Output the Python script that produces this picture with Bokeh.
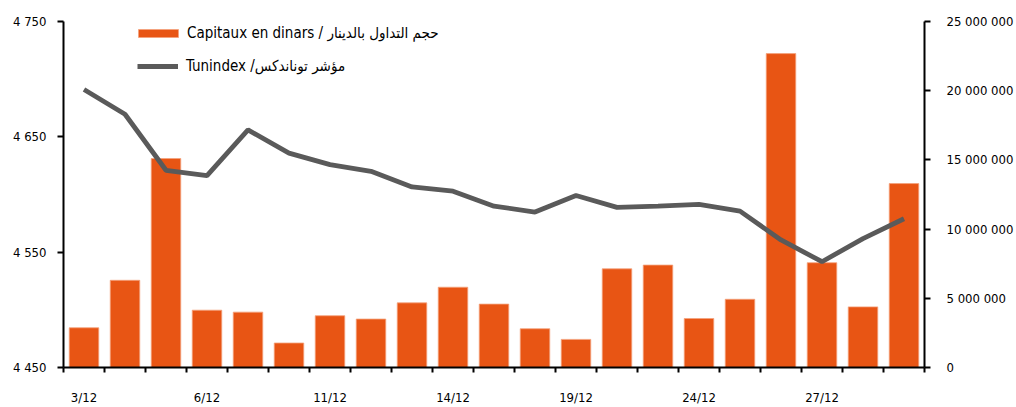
from bokeh.plotting import figure
from bokeh.models import (Range1d, LinearAxis, FixedTicker, Legend, LegendItem,
                          CustomJSTickFormatter)
from bokeh.embed import file_html
from bokeh.resources import INLINE

# ---- data ----
dates = ["3/12", "4/12", "5/12", "6/12", "7/12", "10/12", "11/12", "12/12", "13/12",
         "14/12", "17/12", "18/12", "19/12", "20/12", "21/12", "24/12", "25/12",
         "26/12", "27/12", "28/12", "31/12"]
capitaux = [2.87e6, 6.3e6, 15.1e6, 4.14e6, 4.0e6, 1.77e6, 3.74e6, 3.5e6, 4.67e6,
            5.8e6, 4.58e6, 2.8e6, 2.03e6, 7.13e6, 7.4e6, 3.54e6, 4.93e6,
            22.68e6, 7.57e6, 4.38e6, 13.29e6]
tunindex = [4691.1, 4669.6, 4621.0, 4616.4, 4656.0, 4635.9, 4625.9, 4620.1, 4606.6,
            4602.9, 4589.9, 4584.8, 4599.1, 4588.8, 4589.9, 4591.4, 4585.6,
            4560.6, 4541.7, 4561.8, 4579.0]
label_every = 3
left_ticks = [4450, 4550, 4650, 4750]
right_ticks = [0, 5e6, 10e6, 15e6, 20e6, 25e6]
bar_label = "Capitaux en dinars / حجم التداول بالدينار"
line_label = "Tunindex /مؤشر توناندكس"

FONT = "'DejaVu Sans Condensed', 'DejaVu Sans', sans-serif"
ORANGE = "#E85514"
GREY = "#5A5A5A"
TXT = "#000000"

xs = list(range(len(dates)))

p = figure(width=1016, height=407, output_backend="svg", toolbar_location=None,
           x_range=Range1d(-0.5, len(dates) - 0.5), y_range=Range1d(4450, 4750),
           min_border_left=63, min_border_right=91, min_border_top=21,
           min_border_bottom=38)
p.extra_y_ranges = {"cap": Range1d(0, 25e6)}
p.outline_line_color = None
p.xgrid.visible = False
p.ygrid.visible = False

bars = p.vbar(x=xs, top=capitaux, width=0.72, bottom=0, y_range_name="cap",
              fill_color=ORANGE, line_color="#F4A27C", line_width=0.8)
line = p.line(x=xs, y=tunindex, line_color=GREY, line_width=4.8)

fmt = CustomJSTickFormatter(code="""
  return Math.round(tick).toString().replace(/\\B(?=(\\d{3})+(?!\\d))/g, ' ');
""")

def style_labels(ax, size):
    ax.major_label_text_font = FONT
    ax.major_label_text_font_size = size
    ax.major_label_text_color = TXT

# x axis
xa = p.xaxis[0]
xa.ticker = FixedTicker(ticks=[i for i in xs if i % label_every == 0],
                        minor_ticks=[i - 0.5 for i in range(len(dates) + 1)])
xa.major_label_overrides = {i: dates[i] for i in xs if i % label_every == 0}
xa.major_tick_out = 0
xa.major_tick_in = 0
xa.minor_tick_out = 5
xa.minor_tick_in = 0
xa.major_label_standoff = 17
xa.axis_line_width = 2
xa.minor_tick_line_width = 2
style_labels(xa, "13px")

# left axis
ya = p.yaxis[0]
ya.ticker = FixedTicker(ticks=left_ticks)
ya.formatter = fmt
ya.major_tick_out = 6
ya.major_tick_in = 0
ya.minor_tick_out = 0
ya.minor_tick_in = 0
ya.axis_line_width = 2
ya.major_tick_line_width = 2
ya.major_label_standoff = 11
style_labels(ya, "13px")

# right axis
ra = LinearAxis(y_range_name="cap", ticker=FixedTicker(ticks=right_ticks), formatter=fmt)
ra.major_tick_out = 6
ra.major_tick_in = 0
ra.minor_tick_out = 0
ra.minor_tick_in = 0
ra.axis_line_width = 2
ra.major_tick_line_width = 2
ra.major_label_standoff = 16
style_labels(ra, "13px")
p.add_layout(ra, "right")

# legends
def style_legend(lg):
    lg.border_line_color = None
    lg.background_fill_alpha = 0
    lg.padding = 0
    lg.margin = 0
    lg.spacing = 0
    lg.label_text_font = FONT
    lg.label_text_font_size = "15px"
    lg.label_text_color = TXT
    lg.label_height = 16

lg1 = Legend(items=[LegendItem(label=bar_label, renderers=[bars])],
             location=(70, 325), glyph_width=50, glyph_height=10, label_standoff=4)
style_legend(lg1)
lg2 = Legend(items=[LegendItem(label=line_label, renderers=[line])],
             location=(74, 292), glyph_width=41, glyph_height=16, label_standoff=8)
style_legend(lg2)
p.add_layout(lg1, "center")
p.add_layout(lg2, "center")

open("out.html", "w").write(file_html(p, INLINE))
